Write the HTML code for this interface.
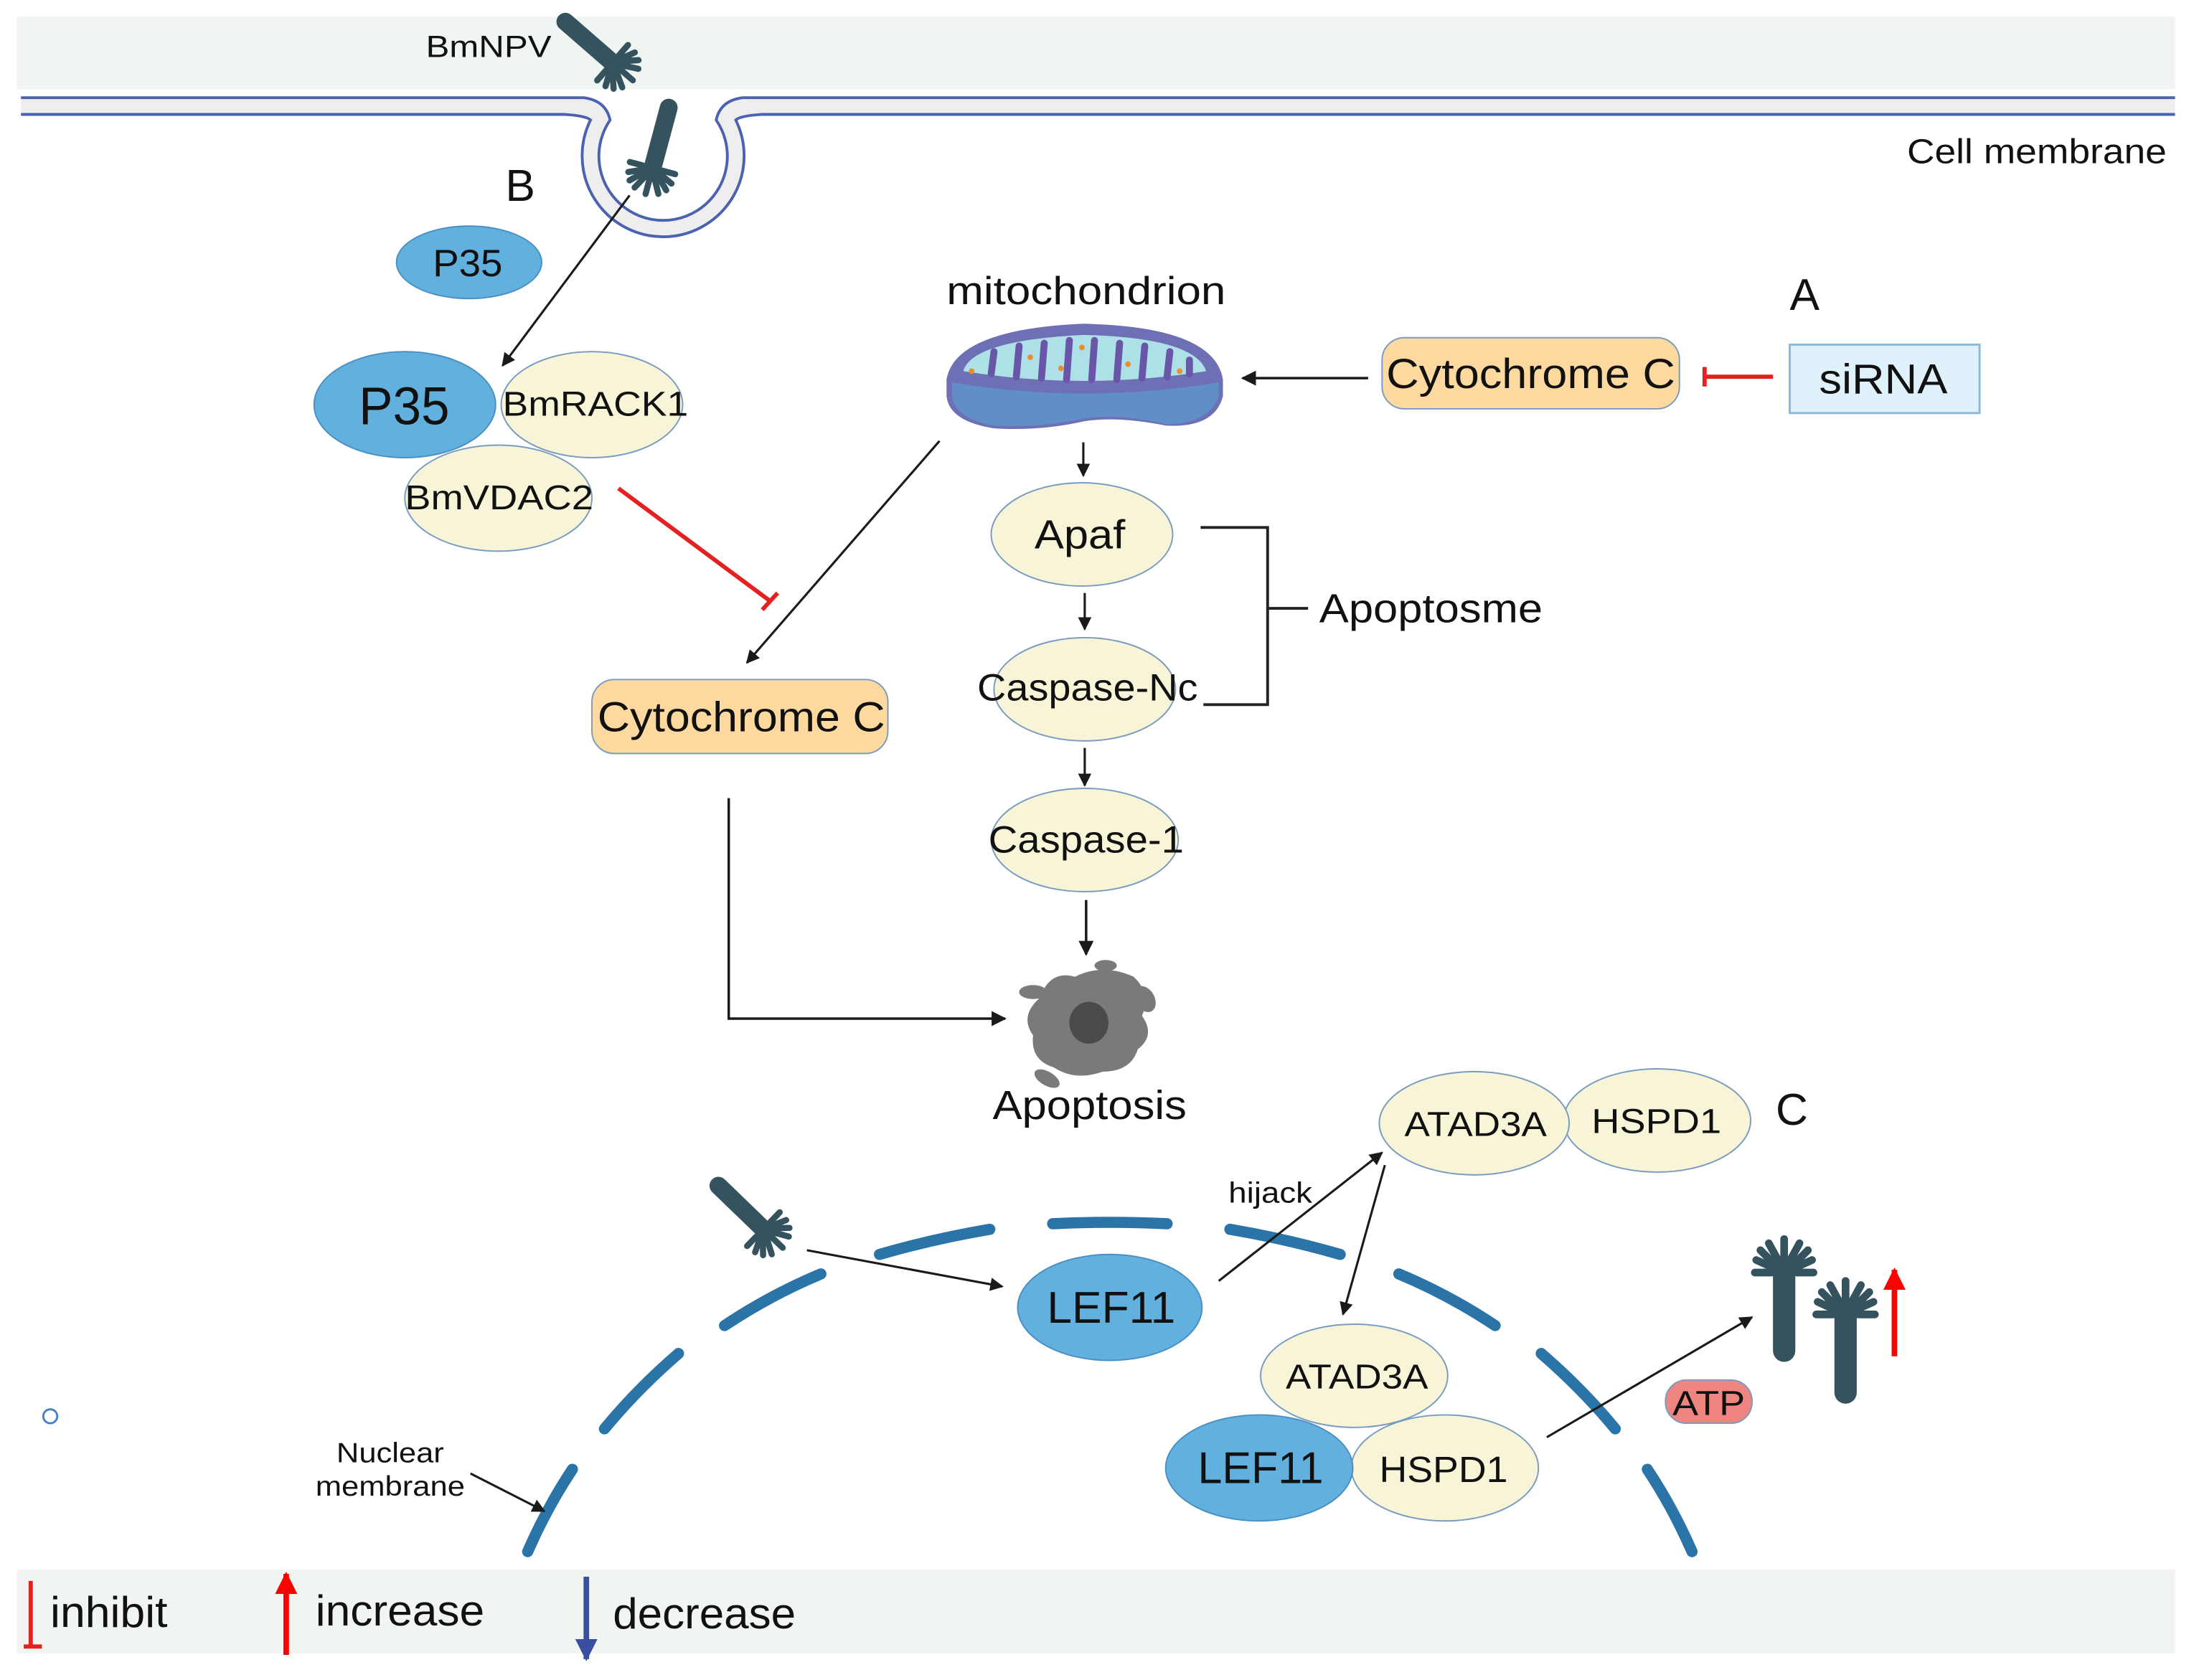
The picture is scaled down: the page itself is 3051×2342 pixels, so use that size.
<!DOCTYPE html>
<html><head><meta charset="utf-8"><style>
html,body{margin:0;padding:0;background:#fff;}
svg{display:block;}
text{font-family:"Liberation Sans",Arial,sans-serif;fill:#111;}
</style></head><body>
<svg width="3051" height="2342" viewBox="0 0 1568 1204" preserveAspectRatio="none" xmlns="http://www.w3.org/2000/svg">
<defs>
<marker id="ah" viewBox="0 0 10 10" refX="9" refY="5" markerWidth="6" markerHeight="6" orient="auto"><path d="M0,0 L10,5 L0,10 z" fill="#1a1a1a"/></marker>
<marker id="ahr" viewBox="0 0 10 10" refX="9" refY="5" markerWidth="4" markerHeight="4" orient="auto"><path d="M0,0 L10,5 L0,10 z" fill="#f00"/></marker>
<marker id="ahb" viewBox="0 0 10 10" refX="9" refY="5" markerWidth="4" markerHeight="4" orient="auto"><path d="M0,0 L10,5 L0,10 z" fill="#3b4fa0"/></marker>
<g id="virus">
<line x1="0" y1="0" x2="0" y2="58" stroke="#34535f" stroke-width="16" stroke-linecap="round"/>
<g stroke="#34535f" stroke-width="5.5" stroke-linecap="round">
<line x1="-9" y1="2" x2="-21" y2="2"/><line x1="-9" y1="-2" x2="-20" y2="-7"/><line x1="-8" y1="-5" x2="-17" y2="-14"/><line x1="-5" y1="-8" x2="-11" y2="-19"/><line x1="0" y1="-9" x2="0" y2="-22"/><line x1="5" y1="-8" x2="11" y2="-19"/><line x1="8" y1="-5" x2="17" y2="-14"/><line x1="9" y1="-2" x2="20" y2="-7"/><line x1="9" y1="2" x2="21" y2="2"/>
</g>
</g>
</defs>
<!-- bands -->
<rect x="12" y="12" width="1546" height="52" fill="#f1f5f1"/>
<rect x="12" y="1125" width="1546" height="60" fill="#f1f5f1"/>
<!-- membrane -->
<path d="M15,70 L418,70 Q434,72 437,86 A46,46 0 1 0 513,86 Q516,72 532,70 L1558,70 L1558,82 L545,82 Q530,83 527,86 A58,58 0 1 1 423,86 Q420,83 405,82 L15,82 Z" fill="#eeeeee"/>
<path d="M15,70 L418,70 Q434,72 437,86 A46,46 0 1 0 513,86 Q516,72 532,70 L1558,70" fill="none" stroke="#4a62b0" stroke-width="2"/>
<path d="M15,82 L405,82 Q420,83 423,86 A58,58 0 1 0 527,86 Q530,83 545,82 L1558,82" fill="none" stroke="#4a62b0" stroke-width="2"/>
<text x="305" y="41" font-size="22" textLength="90" lengthAdjust="spacingAndGlyphs">BmNPV</text>
<use href="#virus" transform="translate(440,46) rotate(131) scale(0.8)"/>
<use href="#virus" transform="translate(467,122) rotate(-165) scale(0.8)"/>
<text x="362" y="144" font-size="32">B</text>
<text x="1366" y="117" font-size="25" textLength="186" lengthAdjust="spacingAndGlyphs">Cell membrane</text>
<!-- P35 complex -->
<ellipse cx="336" cy="188" rx="52" ry="26" fill="#62b0de" stroke="#4a8fc4"/>
<text x="310" y="198" font-size="27" textLength="50" lengthAdjust="spacingAndGlyphs">P35</text>
<line x1="451" y1="140" x2="360" y2="262" stroke="#1a1a1a" stroke-width="1.6" marker-end="url(#ah)"/>
<ellipse cx="424" cy="290" rx="65" ry="38" fill="#f7f4d8" stroke="#7a9bc0"/>
<ellipse cx="290" cy="290" rx="65" ry="38" fill="#62b0de" stroke="#4a8fc4"/>
<ellipse cx="357" cy="357" rx="67" ry="38" fill="#f7f4d8" stroke="#7a9bc0"/>
<text x="257" y="304" font-size="38" textLength="65" lengthAdjust="spacingAndGlyphs">P35</text>
<text x="360" y="298" font-size="25" textLength="133" lengthAdjust="spacingAndGlyphs">BmRACK1</text>
<text x="290" y="365" font-size="25" textLength="135" lengthAdjust="spacingAndGlyphs">BmVDAC2</text>
<line x1="443" y1="350" x2="552" y2="431" stroke="#e52020" stroke-width="3"/>
<line x1="546" y1="437" x2="557" y2="425" stroke="#e52020" stroke-width="3"/>
<!-- mitochondrion -->
<text x="678" y="218" font-size="28" textLength="200" lengthAdjust="spacingAndGlyphs">mitochondrion</text>
<path d="M678,272 Q684,236 776,232 Q870,234 876,272 L876,284 Q870,307 835,305 Q800,298 776,302 Q745,309 712,307 Q680,302 678,284 Z" fill="#6f6fb5"/>
<path d="M682,274 Q776,290 873,274 L873,284 Q866,304 835,304 Q800,296 776,300 Q745,307 712,305 Q684,300 682,284 Z" fill="#5f8fc4"/>
<path d="M690,266 Q696,244 776,240 Q856,242 864,266 Q776,280 690,266 Z" fill="#aee0e8"/>
<g stroke="#6a56a8" stroke-width="5" stroke-linecap="round">
<line x1="710" y1="268" x2="712" y2="252"/><line x1="728" y1="270" x2="730" y2="248"/><line x1="746" y1="271" x2="748" y2="246"/><line x1="764" y1="272" x2="766" y2="244"/><line x1="782" y1="272" x2="784" y2="244"/><line x1="800" y1="272" x2="802" y2="246"/><line x1="818" y1="271" x2="820" y2="248"/><line x1="836" y1="270" x2="838" y2="252"/><line x1="852" y1="268" x2="852" y2="258"/>
</g>
<g fill="#f08a30"><circle cx="696" cy="266" r="2"/><circle cx="738" cy="256" r="2"/><circle cx="775" cy="249" r="2"/><circle cx="808" cy="261" r="2"/><circle cx="845" cy="266" r="2"/><circle cx="760" cy="264" r="2"/></g>
<line x1="980" y1="271" x2="890" y2="271" stroke="#1a1a1a" stroke-width="1.8" marker-end="url(#ah)"/>
<rect x="990" y="242" width="213" height="51" rx="16" fill="#fdd9a0" stroke="#7a9bc0"/>
<text x="993" y="278" font-size="30" textLength="207" lengthAdjust="spacingAndGlyphs">Cytochrome C</text>
<line x1="1270" y1="270" x2="1221" y2="270" stroke="#e52020" stroke-width="3"/>
<line x1="1221" y1="263" x2="1221" y2="277" stroke="#e52020" stroke-width="3"/>
<rect x="1282" y="247" width="136" height="49" fill="#dff1fb" stroke="#8fb7d6" stroke-width="1.5"/>
<text x="1303" y="282" font-size="30" textLength="92" lengthAdjust="spacingAndGlyphs">siRNA</text>
<text x="1282" y="222" font-size="32">A</text>
<!-- cascade -->
<line x1="776" y1="317" x2="776" y2="341" stroke="#1a1a1a" stroke-width="1.6" marker-end="url(#ah)"/>
<ellipse cx="775" cy="383" rx="65" ry="37" fill="#f7f4d8" stroke="#7a9bc0"/>
<text x="741" y="393" font-size="29" textLength="65" lengthAdjust="spacingAndGlyphs">Apaf</text>
<line x1="777" y1="425" x2="777" y2="451" stroke="#1a1a1a" stroke-width="1.6" marker-end="url(#ah)"/>
<ellipse cx="777" cy="494" rx="65" ry="37" fill="#f7f4d8" stroke="#7a9bc0"/>
<text x="700" y="502" font-size="27" textLength="158" lengthAdjust="spacingAndGlyphs">Caspase-Nc</text>
<path d="M860,378 L908,378 L908,505 L862,505 M908,436 L937,436" fill="none" stroke="#222" stroke-width="2"/>
<text x="945" y="446" font-size="29" textLength="160" lengthAdjust="spacingAndGlyphs">Apoptosme</text>
<line x1="777" y1="536" x2="777" y2="563" stroke="#1a1a1a" stroke-width="1.6" marker-end="url(#ah)"/>
<ellipse cx="777" cy="602" rx="67" ry="37" fill="#f7f4d8" stroke="#7a9bc0"/>
<text x="708" y="611" font-size="27" textLength="140" lengthAdjust="spacingAndGlyphs">Caspase-1</text>
<line x1="778" y1="645" x2="778" y2="684" stroke="#1a1a1a" stroke-width="1.8" marker-end="url(#ah)"/>
<!-- apoptotic cell -->
<g fill="#7a7a7a">
<path d="M745,715 Q752,695 770,700 Q790,690 812,700 Q825,712 818,728 Q828,742 815,752 Q810,768 790,768 Q770,775 755,765 Q738,760 740,742 Q730,728 745,715 Z"/>
<ellipse cx="740" cy="711" rx="10" ry="5"/><ellipse cx="792" cy="692" rx="8" ry="4"/><ellipse cx="820" cy="716" rx="7" ry="10" transform="rotate(-30 820 716)"/><ellipse cx="750" cy="773" rx="10" ry="5" transform="rotate(30 750 773)"/>
</g>
<ellipse cx="780" cy="733" rx="14" ry="15" fill="#4a4a4a"/>
<text x="711" y="802" font-size="29" textLength="139" lengthAdjust="spacingAndGlyphs">Apoptosis</text>
<line x1="673" y1="316" x2="535" y2="475" stroke="#1a1a1a" stroke-width="1.6" marker-end="url(#ah)"/>
<rect x="424" y="487" width="212" height="53" rx="16" fill="#fdd9a0" stroke="#7a9bc0"/>
<text x="428" y="524" font-size="30" textLength="206" lengthAdjust="spacingAndGlyphs">Cytochrome C</text>
<path d="M522,572 L522,730 L720,730" fill="none" stroke="#1a1a1a" stroke-width="1.8" marker-end="url(#ah)"/>
<!-- C -->
<ellipse cx="1187" cy="803" rx="67" ry="37" fill="#f7f4d8" stroke="#7a9bc0"/>
<ellipse cx="1056" cy="805" rx="68" ry="37" fill="#f7f4d8" stroke="#7a9bc0"/>
<text x="1006" y="814" font-size="25" textLength="102" lengthAdjust="spacingAndGlyphs">ATAD3A</text>
<text x="1140" y="812" font-size="25" textLength="93" lengthAdjust="spacingAndGlyphs">HSPD1</text>
<text x="1272" y="806" font-size="32">C</text>
<!-- nuclear membrane -->
<g stroke="#2a74a8" stroke-width="8" stroke-linecap="round" fill="none">
<path d="M378,1112 Q392,1080 410,1053"/>
<path d="M433,1024 Q456,996 486,970"/>
<path d="M519,950 Q552,928 588,913"/>
<path d="M630,899 Q668,888 709,881"/>
<path d="M754,877 Q795,875 836,877"/>
<path d="M881,881 Q922,888 960,899"/>
<path d="M1002,913 Q1038,928 1071,950"/>
<path d="M1104,970 Q1134,996 1157,1024"/>
<path d="M1180,1053 Q1198,1080 1212,1112"/>
</g>
<text x="880" y="862" font-size="21" textLength="60" lengthAdjust="spacingAndGlyphs">hijack</text>
<line x1="873" y1="918" x2="990" y2="826" stroke="#1a1a1a" stroke-width="1.6" marker-end="url(#ah)"/>
<line x1="992" y1="835" x2="962" y2="942" stroke="#1a1a1a" stroke-width="1.6" marker-end="url(#ah)"/>
<use href="#virus" transform="translate(548,882) rotate(134) scale(0.8)"/>
<line x1="578" y1="896" x2="718" y2="922" stroke="#1a1a1a" stroke-width="1.6" marker-end="url(#ah)"/>
<ellipse cx="795" cy="937" rx="66" ry="38" fill="#62b0de" stroke="#4a8fc4"/>
<text x="750" y="948" font-size="32" textLength="92" lengthAdjust="spacingAndGlyphs">LEF11</text>
<ellipse cx="970" cy="986" rx="67" ry="37" fill="#f7f4d8" stroke="#7a9bc0"/>
<text x="921" y="995" font-size="25" textLength="102" lengthAdjust="spacingAndGlyphs">ATAD3A</text>
<ellipse cx="1035" cy="1052" rx="67" ry="38" fill="#f7f4d8" stroke="#7a9bc0"/>
<ellipse cx="902" cy="1052" rx="67" ry="38" fill="#62b0de" stroke="#4a8fc4"/>
<text x="858" y="1063" font-size="32" textLength="90" lengthAdjust="spacingAndGlyphs">LEF11</text>
<text x="988" y="1062" font-size="26" textLength="92" lengthAdjust="spacingAndGlyphs">HSPD1</text>
<rect x="1193" y="989" width="62" height="31" rx="15" fill="#ee8580" stroke="#7a9bc0"/>
<text x="1198" y="1014" font-size="25" textLength="52" lengthAdjust="spacingAndGlyphs">ATP</text>
<line x1="1108" y1="1030" x2="1255" y2="944" stroke="#1a1a1a" stroke-width="1.6" marker-end="url(#ah)"/>
<use href="#virus" transform="translate(1278,910)"/>
<use href="#virus" transform="translate(1322,940)"/>
<line x1="1357" y1="972" x2="1357" y2="910" stroke="#f00" stroke-width="4" marker-end="url(#ahr)"/>
<circle cx="36" cy="1015" r="5" fill="none" stroke="#4a7fc0" stroke-width="1.5"/>
<text x="241" y="1048" font-size="20" textLength="77" lengthAdjust="spacingAndGlyphs">Nuclear</text>
<text x="226" y="1072" font-size="20" textLength="107" lengthAdjust="spacingAndGlyphs">membrane</text>
<line x1="337" y1="1056" x2="390" y2="1083" stroke="#1a1a1a" stroke-width="1.6" marker-end="url(#ah)"/>
<!-- legend -->
<line x1="22" y1="1133" x2="22" y2="1180" stroke="#e52020" stroke-width="3"/>
<line x1="17" y1="1180" x2="30" y2="1180" stroke="#e52020" stroke-width="3"/>
<text x="36" y="1166" font-size="31" textLength="84" lengthAdjust="spacingAndGlyphs">inhibit</text>
<line x1="205" y1="1186" x2="205" y2="1128" stroke="#f00" stroke-width="4" marker-end="url(#ahr)"/>
<text x="226" y="1165" font-size="31" textLength="121" lengthAdjust="spacingAndGlyphs">increase</text>
<line x1="420" y1="1130" x2="420" y2="1189" stroke="#3b4fa0" stroke-width="4" marker-end="url(#ahb)"/>
<text x="439" y="1167" font-size="31" textLength="131" lengthAdjust="spacingAndGlyphs">decrease</text>
</svg>
</body></html>
